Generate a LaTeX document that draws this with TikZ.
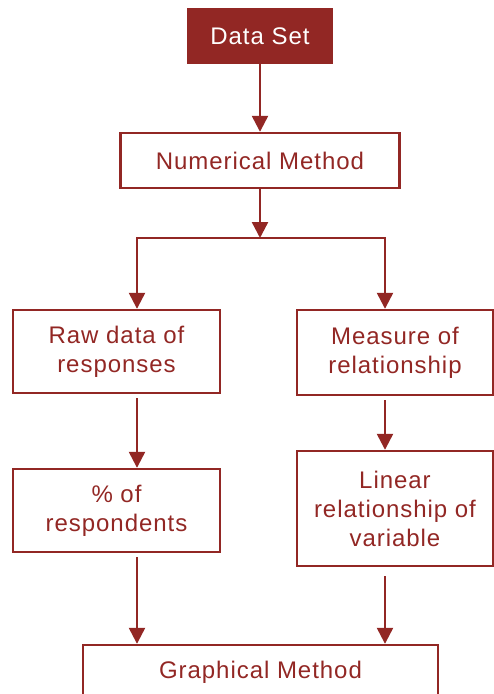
\documentclass[tikz,border=0pt]{standalone}
\usepackage{fontspec}
\setmainfont[LetterSpace=4]{Liberation Sans}
\usetikzlibrary{arrows.meta}
\definecolor{darkred}{RGB}{146,39,36}
\tikzset{
  box/.style={draw=darkred, line width=2.4pt, text=darkred, align=center,
    inner sep=0pt, font=\fontsize{24}{29}\selectfont},
  link/.style={draw=darkred, line width=2.4pt},
  arr/.style={link, -{Triangle[width=16pt,length=16pt]}},
}
\begin{document}
\begin{tikzpicture}[x=1pt,y=-1pt]
    \clip (0,0) rectangle (494,694);
    \node[box, fill=darkred, text=white, minimum width=143pt, minimum height=54pt] (data) at (260,36) {Data Set};
    \node[box, minimum width=279pt, minimum height=55pt] (num) at (260,160.5) {Numerical Method};
    \node[box, minimum width=207pt, minimum height=83pt] (raw) at (116.5,351.5) {Raw data of\\responses};
    \node[box, minimum width=196pt, minimum height=85pt] (meas) at (395,352.5) {Measure of\\relationship};
    \node[box, minimum width=207pt, minimum height=83pt] (pct) at (116.5,510.5) {\% of\\respondents};
    \node[box, minimum width=196pt, minimum height=115pt] (lin) at (395,508.5) {Linear\\relationship of\\variable};
    \node[box, minimum width=355pt, minimum height=54pt] (graph) at (260.5,672) {Graphical Method};
    \coordinate (j) at (260,238);
    \coordinate (jl) at (137,238);
    \coordinate (jr) at (385,238);
    % connectors
    \draw[arr] (data) -- (num);
    \draw[arr] (num) -- (j);
    \draw[link, line cap=rect] (jl) -- (jr);
    \draw[arr] (jl) -- (jl |- raw.north);
    \draw[arr] (jr) -- (jr |- meas.north);
    \draw[arr, shorten <=4pt] (jl |- raw.south) -- (jl |- pct.north);
    \draw[arr, shorten <=4pt] (jr |- meas.south) -- (jr |- lin.north);
    \draw[arr, shorten <=4pt] (jl |- pct.south) -- (jl |- graph.north);
    \draw[arr, shorten <=9pt] (jr |- lin.south) -- (jr |- graph.north);
  \end{tikzpicture}
\end{document}
